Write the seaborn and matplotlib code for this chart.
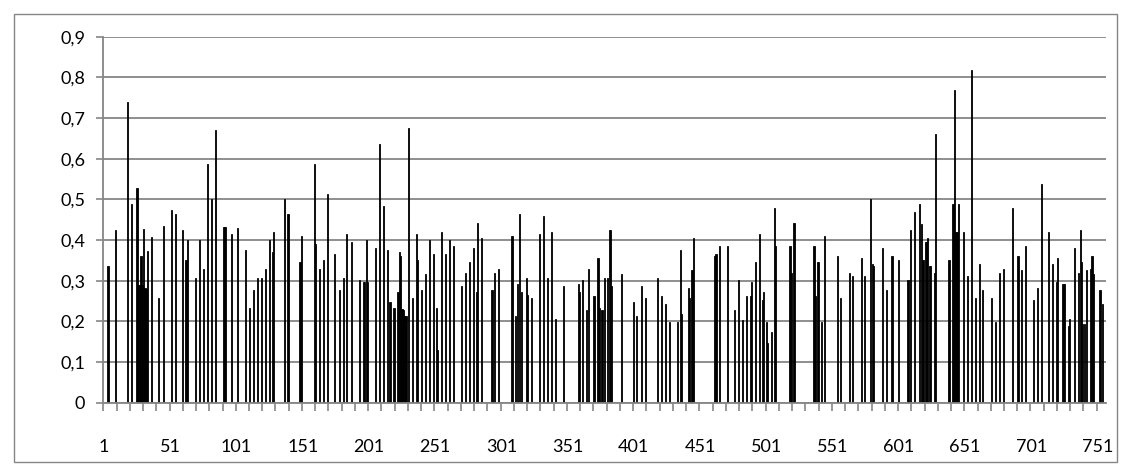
import numpy as np
import pandas as pd
import matplotlib
matplotlib.use("Agg")
import matplotlib.pyplot as plt
from matplotlib.patches import Rectangle
from matplotlib.ticker import FixedLocator, FuncFormatter
import seaborn as sns

N_CATEGORIES = 757

bar_positions = [
    4, 10, 19, 22, 26, 27, 28, 29, 30, 31, 32, 33, 34, 37, 42, 46, 52, 55, 60, 63,
    64, 70, 73, 76, 79, 82, 85, 91, 92, 93, 97, 102, 108, 111, 114, 117, 120, 123, 126, 128,
    129, 137, 140, 149, 150, 160, 161, 164, 167, 170, 175, 179, 182, 184, 188, 194, 197, 198, 199, 200,
    206, 209, 212, 215, 217, 220, 223, 224, 225, 226, 227, 228, 229, 231, 234, 237, 238, 241, 244, 247,
    250, 252, 253, 256, 259, 262, 265, 271, 274, 277, 280, 282, 283, 286, 294, 296, 299, 309, 312, 313,
    315, 316, 320, 321, 324, 330, 333, 336, 339, 342, 348, 359, 360, 362, 365, 367, 371, 374, 375, 377,
    379, 381, 383, 384, 392, 401, 403, 407, 410, 419, 422, 425, 428, 434, 436, 437, 442, 443, 445, 446,
    462, 463, 466, 472, 477, 480, 483, 486, 489, 490, 493, 496, 498, 499, 501, 502, 505, 507, 508, 519,
    520, 522, 537, 538, 540, 543, 545, 555, 557, 564, 566, 573, 575, 580, 581, 582, 589, 592, 596, 601,
    608, 610, 613, 617, 618, 619, 620, 621, 622, 623, 624, 625, 628, 629, 639, 642, 643, 644, 645, 646,
    650, 653, 656, 659, 662, 664, 671, 674, 677, 680, 687, 691, 694, 697, 703, 706, 709, 714, 717, 720,
    721, 725, 726, 729, 730, 734, 737, 738, 739, 740, 741, 743, 746, 747, 748, 753, 755,
]

bar_values = [
    0.336, 0.425, 0.74, 0.489, 0.527, 0.29, 0.29, 0.36, 0.29, 0.426, 0.283, 0.28, 0.373, 0.407, 0.258, 0.435, 0.474, 0.464, 0.425, 0.35,
    0.40, 0.306, 0.40, 0.33, 0.587, 0.502, 0.67, 0.433, 0.433, 0.433, 0.415, 0.429, 0.375, 0.232, 0.277, 0.306, 0.306, 0.33, 0.40, 0.37,
    0.42, 0.502, 0.464, 0.345, 0.41, 0.587, 0.39, 0.33, 0.351, 0.513, 0.365, 0.277, 0.306, 0.415, 0.395, 0.302, 0.296, 0.296, 0.40, 0.296,
    0.38, 0.636, 0.484, 0.375, 0.247, 0.232, 0.271, 0.37, 0.36, 0.23, 0.228, 0.214, 0.214, 0.675, 0.258, 0.415, 0.351, 0.277, 0.316, 0.40,
    0.365, 0.232, 0.13, 0.42, 0.365, 0.40, 0.385, 0.287, 0.32, 0.345, 0.38, 0.271, 0.443, 0.404, 0.277, 0.32, 0.33, 0.41, 0.214, 0.291,
    0.464, 0.271, 0.306, 0.266, 0.258, 0.415, 0.459, 0.306, 0.42, 0.207, 0.287, 0.291, 0.271, 0.302, 0.228, 0.33, 0.262, 0.355, 0.232, 0.228,
    0.306, 0.306, 0.425, 0.287, 0.316, 0.247, 0.214, 0.287, 0.258, 0.306, 0.262, 0.243, 0.198, 0.198, 0.375, 0.218, 0.283, 0.258, 0.326, 0.404,
    0.36, 0.365, 0.385, 0.385, 0.228, 0.302, 0.203, 0.262, 0.262, 0.296, 0.345, 0.415, 0.252, 0.271, 0.198, 0.148, 0.173, 0.478, 0.385, 0.385,
    0.32, 0.443, 0.385, 0.262, 0.345, 0.198, 0.41, 0.36, 0.258, 0.32, 0.311, 0.355, 0.311, 0.502, 0.34, 0.336, 0.38, 0.277, 0.36, 0.351,
    0.302, 0.425, 0.468, 0.489, 0.44, 0.351, 0.351, 0.395, 0.395, 0.404, 0.336, 0.336, 0.32, 0.66, 0.351, 0.489, 0.769, 0.42, 0.42, 0.489,
    0.42, 0.311, 0.818, 0.258, 0.34, 0.277, 0.258, 0.198, 0.32, 0.33, 0.478, 0.36, 0.326, 0.385, 0.252, 0.283, 0.538, 0.42, 0.34, 0.296,
    0.355, 0.291, 0.291, 0.189, 0.207, 0.38, 0.32, 0.425, 0.345, 0.193, 0.193, 0.326, 0.33, 0.36, 0.316, 0.277, 0.243,
]

y_ticks = [0, 0.1, 0.2, 0.3, 0.4, 0.5, 0.6, 0.7, 0.8, 0.9]

categories = np.arange(1, N_CATEGORIES + 1)
values = np.zeros(N_CATEGORIES)
for p, v in zip(bar_positions, bar_values):
    values[p - 1] = v

df = pd.DataFrame({"cat": categories.astype(str), "val": values})

sns.set_theme(style="white")
plt.rcParams["font.family"] = ["Lato", "DejaVu Sans"]

GRID = "#868686"
fig = plt.figure(figsize=(11.31, 4.76), dpi=100)
ax = fig.add_axes([103.3 / 1131, 1 - 402.7 / 476, (1106 - 103.3) / 1131, (402.7 - 36.7) / 476])

sns.barplot(data=df, x="cat", y="val", order=list(df["cat"]), color="black",
            saturation=1, width=0.9, edgecolor="black", linewidth=0.6, ax=ax, errorbar=None)

ax.set_xlim(-0.5, N_CATEGORIES - 0.5)
ax.set_ylim(0, 0.9)
ax.set_axisbelow(True)

ax.set_yticks(y_ticks)
ax.yaxis.set_major_formatter(FuncFormatter(lambda v, p: "0" if abs(v) < 1e-9 else f"{v:.1f}".replace(".", ",")))
ax.grid(axis="y", color=GRID, linewidth=1.3)
ax.grid(axis="x", visible=False)

label_pos = list(range(0, N_CATEGORIES, 50))
ax.set_xticks(label_pos)
ax.set_xticklabels([str(categories[i]) for i in label_pos])
ax.xaxis.set_minor_locator(FixedLocator(np.arange(-0.5, N_CATEGORIES, 10)))
ax.tick_params(axis="x", which="major", length=0, pad=26, labelsize=13, colors="black")
ax.tick_params(axis="x", which="minor", length=6, width=1.2, color=GRID, direction="out", bottom=True)
ax.tick_params(axis="y", which="major", length=5, width=1.2, color=GRID, direction="out", left=True,
               pad=8, labelsize=13, labelcolor="black")
ax.set_xlabel("")
ax.set_ylabel("")

for s in ["top", "right"]:
    ax.spines[s].set_visible(False)
for s in ["left", "bottom"]:
    ax.spines[s].set_visible(True)
    ax.spines[s].set_color(GRID)
    ax.spines[s].set_linewidth(1.3)

fig.patches.append(Rectangle((14 / 1131, 1 - 462 / 476), (1117 - 14) / 1131, (462 - 14) / 476,
                             transform=fig.transFigure, fill=False, edgecolor=GRID, linewidth=1))

fig.savefig("out.png", dpi=100)
